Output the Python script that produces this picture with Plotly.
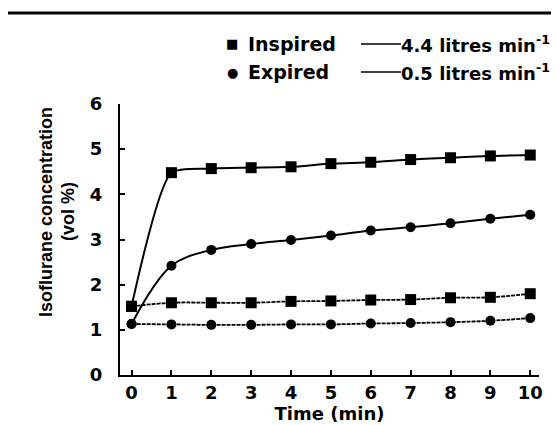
import plotly.graph_objects as go

time_min = [0, 1, 2, 3, 4, 5, 6, 7, 8, 9, 10]
insp_high = [1.52, 4.48, 4.57, 4.59, 4.61, 4.68, 4.71, 4.77, 4.81, 4.85, 4.87]
exp_high = [1.13, 2.42, 2.77, 2.90, 2.99, 3.09, 3.20, 3.27, 3.36, 3.46, 3.55]
insp_low = [1.52, 1.60, 1.60, 1.60, 1.63, 1.64, 1.66, 1.67, 1.71, 1.72, 1.80]
exp_low = [1.13, 1.12, 1.11, 1.11, 1.12, 1.12, 1.14, 1.15, 1.17, 1.20, 1.26]
x_ticks = list(range(0, 11))
y_ticks = list(range(0, 7))

FONT = "DejaVu Sans"
TFONT = "Liberation Sans"
fig = go.Figure()

def add(y, sym, size, dash, width, smooth):
    fig.add_trace(go.Scatter(
        x=time_min, y=y, mode="lines+markers",
        line=dict(color="black", width=width, shape="spline", smoothing=smooth, dash=dash),
        marker=dict(symbol=sym, size=size, color="black"),
        showlegend=False, cliponaxis=False))

add(insp_low, "square", 11, "4px,1px", 1.8, 1.0)
add(exp_low, "circle", 10, "4px,1px", 1.8, 1.0)
add(insp_high, "square", 11, "solid", 2, 0.6)
add(exp_high, "circle", 10, "solid", 2, 1.0)

L, R, T, B = 112, 28, 96, 58
W, H = 559, 425
pw, ph = W - L - R, H - T - B

def px(x):
    return (x - L) / pw

def py(y):
    return (H - B - y) / ph

ann = []
rows = [("■", "Inspired", "4.4 litres min<sup>-1</sup>", 36),
        ("●", "Expired", "0.5 litres min<sup>-1</sup>", 64)]
shapes = []
for sym, lab, flow, yy in rows:
    ann.append(dict(x=px(224), y=py(yy), xref="paper", yref="paper", text=sym,
                    showarrow=False, xanchor="center", yanchor="middle",
                    font=dict(size=13, color="black", family=FONT)))
    ann.append(dict(x=px(238), y=py(yy), xref="paper", yref="paper", text="<b>" + lab + "</b>",
                    showarrow=False, xanchor="left", yanchor="middle",
                    font=dict(size=19, color="black", family=FONT)))
    ann.append(dict(x=px(391), y=py(yy), xref="paper", yref="paper", text="<b>" + flow + "</b>",
                    showarrow=False, xanchor="left", yanchor="middle",
                    font=dict(size=18, color="black", family=FONT)))
    shapes.append(dict(type="line", xref="paper", yref="paper",
                       x0=px(353), x1=px(393), y0=py(yy), y1=py(yy),
                       line=dict(color="black", width=1.5)))

ann.append(dict(x=px(38), y=py(204), xref="paper", yref="paper",
                text="<b>Isoflurane concentration</b>", textangle=-90,
                showarrow=False, xanchor="center", yanchor="middle",
                font=dict(size=18, color="black", family=TFONT)))
ann.append(dict(x=px(60), y=py(204), xref="paper", yref="paper",
                text="<b>(vol %)</b>", textangle=-90,
                showarrow=False, xanchor="center", yanchor="middle",
                font=dict(size=18, color="black", family=TFONT)))

shapes.append(dict(type="line", xref="paper", yref="paper",
                   x0=-1, x1=2, y0=py(5), y1=py(5), line=dict(color="black", width=3)))

fig.update_layout(
    width=W, height=H, margin=dict(l=L, r=R, t=T, b=B),
    paper_bgcolor="white", plot_bgcolor="white",
    annotations=ann, shapes=shapes,
    xaxis=dict(range=[-0.29, 10.22], tickvals=x_ticks, ticktext=[str(v) for v in x_ticks],
               showgrid=False, zeroline=False, showline=True, linecolor="black", linewidth=2,
               ticks="inside", ticklen=5, tickwidth=1.5, tickcolor="black",
               tickfont=dict(size=18, color="black", family=FONT, weight="bold"),
               title=dict(text="<b>Time (min)</b>", font=dict(size=18, color="black", family=FONT), standoff=2)),
    yaxis=dict(range=[0, 6], tickvals=y_ticks, ticktext=[str(v) for v in y_ticks],
               showgrid=False, zeroline=False, showline=True, linecolor="black", linewidth=2,
               ticks="inside", ticklen=5, tickwidth=1.5, tickcolor="black",
               tickfont=dict(size=18, color="black", family=FONT, weight="bold"),
               ticklabelstandoff=12),
)

fig.write_html("out.html")
